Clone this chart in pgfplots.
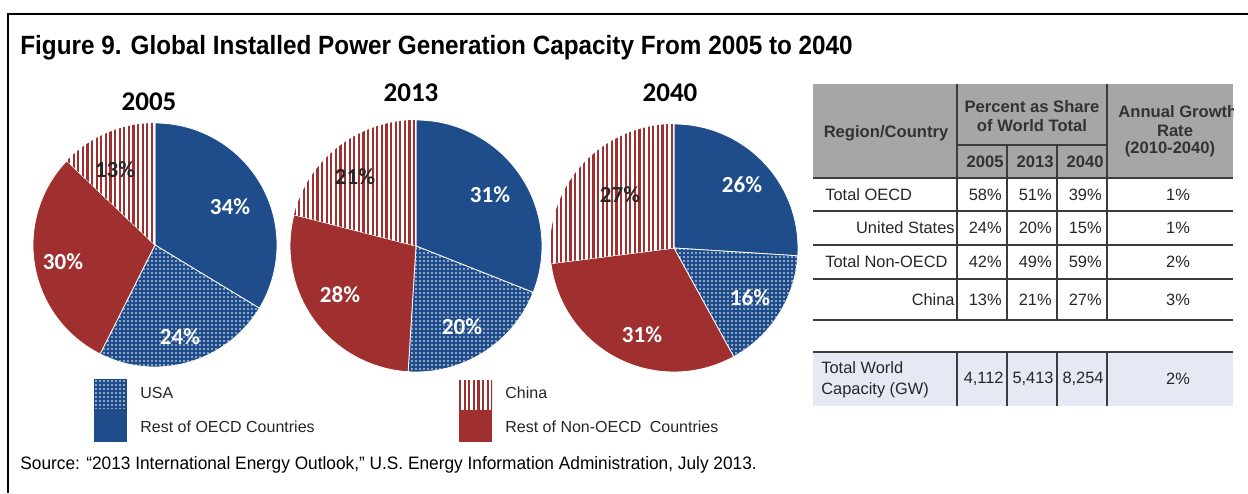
\documentclass[border=0pt]{standalone}
\usepackage{pgfplots}
\pgfplotsset{compat=1.18}
\usepackage{pgfplotstable}
\usepackage{fontspec}
\usetikzlibrary{patterns.meta}
\setmainfont{Liberation Sans}
\newfontfamily\titlefont[FakeStretch=0.92]{Liberation Sans}
\newfontfamily\srcfont[FakeStretch=0.96]{Liberation Sans}
\newfontfamily\calfont{Carlito}

\definecolor{oecdblue}{RGB}{31,76,138}
\definecolor{nonred}{RGB}{160,48,47}
\definecolor{hdrgray}{RGB}{166,166,166}
\definecolor{bandblue}{RGB}{228,233,243}
\definecolor{rulegray}{RGB}{60,60,60}

% share of world capacity (%): rest of OECD, USA, rest of non-OECD, China
\pgfplotstableread{
year oecd usa nonoecd china
2005 34 24 30 13
2013 31 20 28 21
2040 26 16 31 27
}\sharetable

\tikzset{
  usadots/.style={fill=oecdblue, postaction={pattern={Dots[distance=2pt, radius=0.42pt]}, pattern color=white}},
  chinalines/.style={fill=white, postaction={pattern={Lines[angle=90, distance=2.3pt, line width=1.1pt]}, pattern color=nonred}},
}

% #1 table row, #2 x, #3 y of the centre (pt), #4 diameter (pt)
\newcommand\drawpie[4]{%
  \pgfplotstablegetelem{#1}{oecd}\of\sharetable \let\vA\pgfplotsretval
  \pgfplotstablegetelem{#1}{usa}\of\sharetable \let\vB\pgfplotsretval
  \pgfplotstablegetelem{#1}{nonoecd}\of\sharetable \let\vC\pgfplotsretval
  \pgfplotstablegetelem{#1}{china}\of\sharetable \let\vD\pgfplotsretval
  \pgfmathsetmacro\vT{\vA+\vB+\vC+\vD}
  \pgfmathsetmacro\aA{90-360*\vA/\vT}
  \pgfmathsetmacro\aB{\aA-360*\vB/\vT}
  \pgfmathsetmacro\aC{\aB-360*\vC/\vT}
  \begin{axis}[at={(#2,#3)}, anchor=origin, width=#4, height=#4,
      scale only axis, hide axis, clip=false,
      xmin=-1, xmax=1, ymin=-1, ymax=1]
    \fill[oecdblue, draw=white, line width=0.4pt] (axis cs:0,0) -- (axis cs:0,1)
      arc[start angle=90, end angle=\aA, radius=#4/2] -- cycle;
    \path[usadots, draw=white, line width=0.4pt] (axis cs:0,0) -- (axis cs:{cos(\aA)},{sin(\aA)})
      arc[start angle=\aA, end angle=\aB, radius=#4/2] -- cycle;
    \fill[nonred, draw=white, line width=0.4pt] (axis cs:0,0) -- (axis cs:{cos(\aB)},{sin(\aB)})
      arc[start angle=\aB, end angle=\aC, radius=#4/2] -- cycle;
    \path[chinalines, draw=white, line width=0.4pt] (axis cs:0,0) -- (axis cs:{cos(\aC)},{sin(\aC)})
      arc[start angle=\aC, end angle=-270, radius=#4/2] -- cycle;
  \end{axis}}

\begin{document}
\begin{tikzpicture}[x=0.5pt, y=-0.5pt]
\useasboundingbox (0,0) rectangle (1248,493);
\clip (0,0) rectangle (1248,493);
\fill[white] (0,0) rectangle (1248,493);

% frame and title
\draw[line width=1pt] (8,493) -- (8,14) -- (1250,14);
\node[anchor=base west, inner sep=0pt, font=\titlefont\bfseries\fontsize{13.2pt}{15pt}\selectfont] at (20,54)
  {Figure 9. Global Installed Power Generation Capacity From 2005 to 2040};

% pies
\drawpie{0}{77.5pt}{-122.5pt}{122pt}
\drawpie{1}{208pt}{-123pt}{126pt}
\drawpie{2}{337pt}{-124pt}{124pt}

\begin{scope}[font=\calfont\bfseries\fontsize{13.5pt}{15pt}\selectfont]
  \node at (149,102) {2005};
  \node at (411,93) {2013};
  \node at (670,93) {2040};
\end{scope}
\begin{scope}[font=\calfont\bfseries\fontsize{11.5pt}{13pt}\selectfont, text=white]
  \node at (230,207) {34\%};
  \node at (180,337) {24\%};
  \node at (63,262) {30\%};
  \node[text=black!85] at (115,170) {13\%};
  \node at (490,195) {31\%};
  \node at (462,327) {20\%};
  \node at (340,295) {28\%};
  \node[text=black!85] at (355,177) {21\%};
  \node at (742,185) {26\%};
  \node at (750,298) {16\%};
  \node at (642,335) {31\%};
  \node[text=black!85] at (620,195) {27\%};
\end{scope}

% legend
\path[usadots] (94,379) rectangle (127,409);
\fill[oecdblue] (94,409) rectangle (127,442);
\path[chinalines] (459,380) rectangle (492,410);
\fill[nonred] (459,410) rectangle (492,442);
\begin{scope}[font=\fontsize{8pt}{10pt}\selectfont, text=black!85]
  \node[anchor=west, inner sep=0pt] at (140,393) {USA};
  \node[anchor=west, inner sep=0pt] at (140,427) {Rest of OECD Countries};
  \node[anchor=west, inner sep=0pt] at (505,393) {China};
  \node[anchor=west, inner sep=0pt] at (505,427) {Rest of Non-OECD\hspace{2pt} Countries};
\end{scope}

% table
\begin{scope}
  \clip (813,80) rectangle (1233,410);
  \fill[hdrgray] (813,84) rectangle (1233,178);
  \fill[bandblue] (813,352) rectangle (1233,406);
  \foreach \yy in {178,211,245,279,320,352}
    \draw[rulegray, line width=1pt] (813,\yy) -- (1233,\yy);
  \draw[rulegray, line width=0.8pt] (957,145) -- (1107,145);
  \foreach \xx in {957,1107} {
    \draw[rulegray, line width=0.75pt] (\xx,84) -- (\xx,320);
    \draw[rulegray, line width=0.75pt] (\xx,352) -- (\xx,406);}
  \foreach \xx in {1007,1057} {
    \draw[rulegray, line width=0.75pt] (\xx,145) -- (\xx,320);
    \draw[rulegray, line width=0.75pt] (\xx,352) -- (\xx,406);}
  \begin{scope}[font=\bfseries\fontsize{8.3pt}{10pt}\selectfont, text=black!80, inner sep=0pt]
    \node at (886,133) {Region/Country};
    \node at (1032,107) {Percent as Share};
    \node at (1032,126) {of World Total};
    \node[anchor=east] at (1004,162) {2005};
    \node[anchor=east] at (1054,162) {2013};
    \node[anchor=east] at (1104,162) {2040};
    \node[anchor=west] at (1118,112) {Annual Growth};
    \node at (1175,131) {Rate};
    \node at (1170,149) {(2010-2040)};
  \end{scope}
  \begin{scope}[font=\fontsize{8.2pt}{10pt}\selectfont, text=black!85, inner sep=0pt]
    \node[anchor=west] at (825,195) {Total OECD};
    \node[anchor=east] at (955,228) {United States};
    \node[anchor=west] at (825,262) {Total Non-OECD};
    \node[anchor=east] at (955,300) {China};
    \node[anchor=west] at (821,368) {Total World};
    \node[anchor=west] at (821,390) {Capacity (GW)};
    \foreach \yy/\a/\b/\c/\g in {195/58/51/39/1, 228/24/20/15/1, 262/42/49/59/2, 300/13/21/27/3} {
      \node[anchor=east] at (1002,\yy) {\a\%};
      \node[anchor=east] at (1052,\yy) {\b\%};
      \node[anchor=east] at (1102,\yy) {\c\%};
      \node at (1178,\yy) {\g\%};}
    \node[anchor=east] at (1004,379) {4,112};
    \node[anchor=east] at (1054,379) {5,413};
    \node[anchor=east] at (1104,379) {8,254};
    \node at (1178,379) {2\%};
  \end{scope}
\end{scope}

% source
\node[anchor=base west, inner sep=0pt, font=\srcfont\fontsize{9pt}{11pt}\selectfont] at (20,469)
  {Source: “2013 International Energy Outlook,” U.S. Energy Information Administration, July 2013.};
\end{tikzpicture}
\end{document}
